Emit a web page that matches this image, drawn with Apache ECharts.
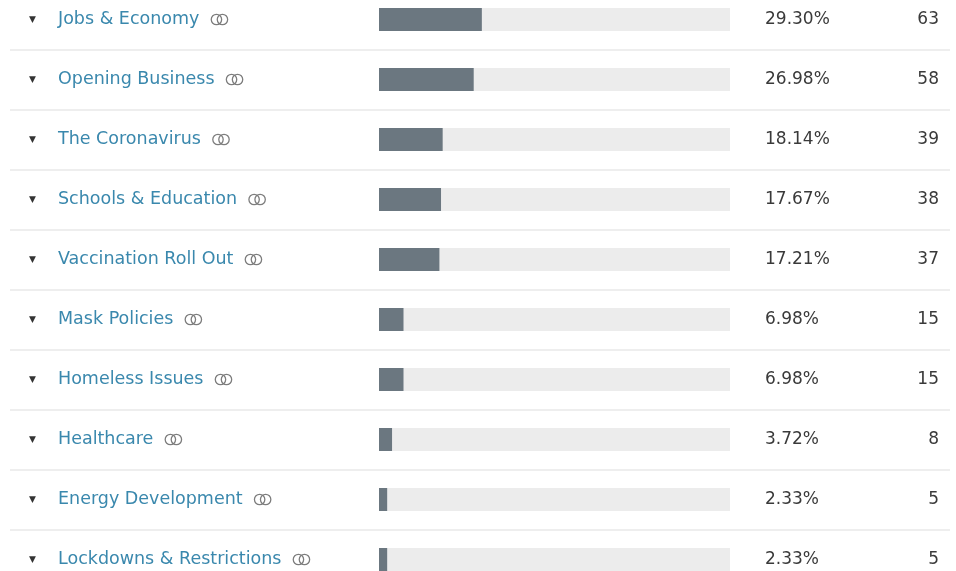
<!DOCTYPE html>
<html>
<head>
<meta charset="utf-8">
<script src="https://cdn.jsdelivr.net/npm/echarts@6/dist/echarts.min.js"></script>
<style>html,body{margin:0;padding:0;background:#fff}#c{width:956px;height:571px}</style>
</head>
<body>
<div id="c"></div>
<script>
const categories = ['Jobs & Economy','Opening Business','The Coronavirus','Schools & Education','Vaccination Roll Out','Mask Policies','Homeless Issues','Healthcare','Energy Development','Lockdowns & Restrictions'];
const percents = [29.30, 26.98, 18.14, 17.67, 17.21, 6.98, 6.98, 3.72, 2.33, 2.33];
const counts = [63, 58, 39, 38, 37, 15, 15, 8, 5, 5];

const iconSvg = 'data:image/svg+xml;utf8,' + encodeURIComponent(
  '<svg xmlns="http://www.w3.org/2000/svg" width="20" height="13" viewBox="0 0 20 13">' +
  '<circle cx="7" cy="6.5" r="5.2" fill="none" stroke="#7d7d7d" stroke-width="1.3"/>' +
  '<circle cx="13" cy="6.5" r="5.2" fill="none" stroke="#7d7d7d" stroke-width="1.3"/></svg>');

const FONT = 'DejaVu Sans';
const chart = echarts.init(document.getElementById('c'));
chart.setOption({
  animation: false,
  grid: [
    {left: 379, width: 351, top: -10.5, height: 600, outerBoundsMode: 'none', containLabel: false},
    {left: 10, right: 6, top: -10.5, height: 600, outerBoundsMode: 'none', containLabel: false}
  ],
  xAxis: [
    {gridIndex: 0, type: 'value', min: 0, max: 100, show: false},
    {gridIndex: 1, type: 'value', min: 0, max: 100, show: false}
  ],
  yAxis: [
    {
      gridIndex: 0, type: 'category', data: categories, inverse: true, position: 'left',
      axisLine: {show: false}, axisTick: {show: false}, splitLine: {show: false},
      axisLabel: {
        align: 'left', margin: 350,
        formatter: function (v) { return '{t|▼}{n|' + v + '}{i|}'; },
        rich: {
          t: {fontSize: 9, color: '#333', width: 29, fontFamily: FONT},
          n: {fontSize: 17.5, color: '#3a88ad', fontFamily: FONT, padding: [0, 10, 0, 0]},
          i: {width: 20, height: 13, backgroundColor: {image: iconSvg}}
        }
      }
    },
    {
      gridIndex: 0, type: 'category', data: categories, inverse: true, position: 'right',
      axisLine: {show: false}, axisTick: {show: false}, splitLine: {show: false},
      axisLabel: {
        align: 'left', margin: 35,
        formatter: function (v, i) { return '{p|' + percents[i].toFixed(2) + '%}{c|' + counts[i] + '}'; },
        rich: {
          p: {fontSize: 17, color: '#3a3a3a', width: 144, fontFamily: FONT},
          c: {fontSize: 17, color: '#3a3a3a', width: 30, align: 'right', fontFamily: FONT}
        }
      }
    },
    {
      gridIndex: 1, type: 'category', data: categories, inverse: true,
      axisLine: {show: false}, axisTick: {show: false}, axisLabel: {show: false},
      splitLine: {show: true, lineStyle: {color: '#e9e9e9', width: 1.5}}
    }
  ],
  series: [
    {
      type: 'bar', xAxisIndex: 0, yAxisIndex: 0, data: percents, barWidth: 23,
      itemStyle: {color: '#6b7780'},
      showBackground: true, backgroundStyle: {color: '#ececec'},
      silent: true
    }
  ]
});
</script>
</body>
</html>
